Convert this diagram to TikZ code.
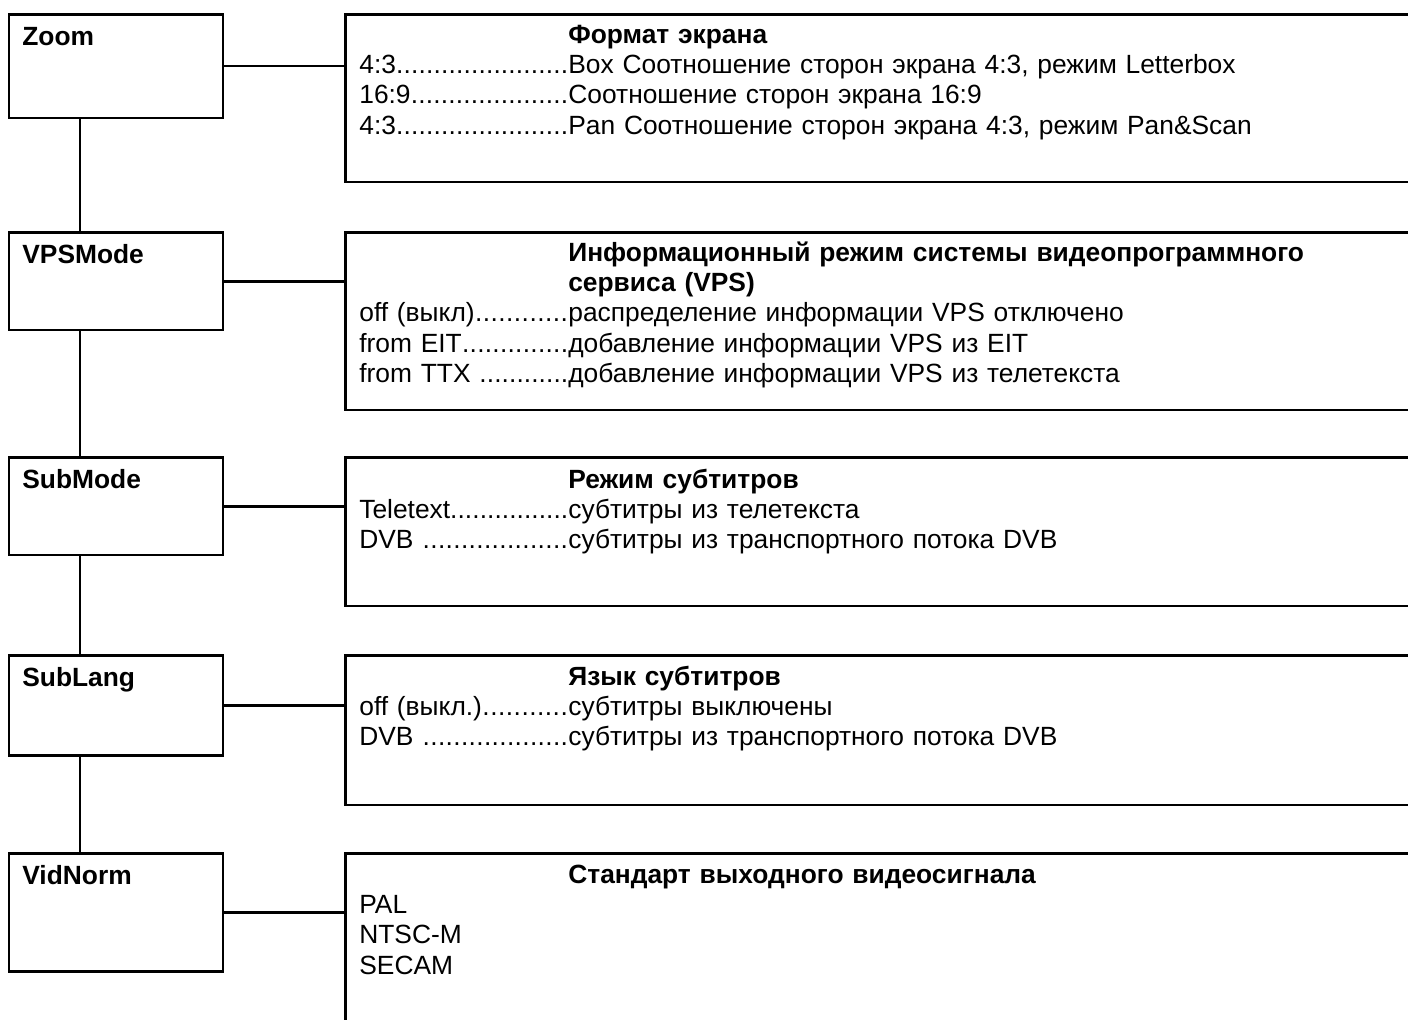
\documentclass[tikz,border=0pt]{standalone}
\usepackage{fontspec}
\setmainfont{Liberation Sans}
\usetikzlibrary{positioning,calc}

% dense dot leader, as in the manual
\newcommand{\lead}{\xleaders\hbox{.}\hfill}
\newcommand{\opt}[2]{\makebox[4.18cm][l]{#1\lead}#2}
\newcommand{\hd}[1]{\hspace*{4.18cm}\textbf{#1}}

\tikzset{
    every node/.style={font=\fontsize{15}{17.3}\selectfont},
    menubox/.style={draw, line width=0.05cm, anchor=north west, minimum width=4.28cm, inner sep=0},
    optbox/.style={draw, line width=0.05cm, anchor=north west, minimum width=22cm, inner sep=0},
    boxname/.style={anchor=base west, inner sep=0, font=\fontsize{15}{17.3}\selectfont\bfseries},
    opttext/.style={anchor=base west, inner sep=0, text width=21cm, align=left},
    link/.style={line width=0.05cm}
}

\begin{document}
\begin{tikzpicture}[x=0.02cm,y=-0.02cm]
            \useasboundingbox (0,0) rectangle (1408,1019);
            \clip (0,0) rectangle (1408,1019);
            \coordinate (spine) at (80,0);
            % menu items on the left
            \node[menubox, minimum height=2.08cm] (zoom) at (8,13) {};
            \node[menubox, minimum height=1.96cm] (vps) at (8,231) {};
            \node[menubox, minimum height=1.96cm] (submode) at (8,456) {};
            \node[menubox, minimum height=2.0cm] (sublang) at (8,654) {};
            \node[menubox, minimum height=2.36cm] (vidnorm) at (8,852) {};
            \node[boxname] (zoomN) at ($(zoom.north west)+(14,32)$) {Zoom};
            \node[boxname] (vpsN) at ($(vps.north west)+(14,32)$) {VPSMode};
            \node[boxname] (submodeN) at ($(submode.north west)+(14,32)$) {SubMode};
            \node[boxname] (sublangN) at ($(sublang.north west)+(14,32)$) {SubLang};
            \node[boxname] (vidnormN) at ($(vidnorm.north west)+(14,32)$) {VidNorm};
            % option boxes on the right
            \node[optbox, minimum height=3.36cm] (zoomR) at (344,13) {};
            \node[optbox, minimum height=3.56cm] (vpsR) at (344,231) {};
            \node[optbox, minimum height=2.98cm] (submodeR) at (344,456) {};
            \node[optbox, minimum height=3.0cm] (sublangR) at (344,654) {};
            \node[optbox, minimum height=4.0cm] (vidnormR) at (344,852) {};
            \node[opttext] (zoomT) at ($(zoomR.north west)+(15,30)$) {%
                \hd{Формат экрана}\\
                \opt{4:3}{Box Соотношение сторон экрана 4:3, режим Letterbox}\\
                \opt{16:9}{Соотношение сторон экрана 16:9}\\
                \opt{4:3}{Pan Соотношение сторон экрана 4:3, режим Pan\&Scan}};
            \node[opttext] (vpsT) at ($(vpsR.north west)+(15,30)$) {%
                \hd{Информационный режим системы видеопрограммного}\\
                \hd{сервиса (VPS)}\\
                \opt{off (выкл)}{распределение информации VPS отключено}\\
                \opt{from EIT}{добавление информации VPS из EIT}\\
                \opt{from TTX }{добавление информации VPS из телетекста}};
            \node[opttext] (submodeT) at ($(submodeR.north west)+(15,32)$) {%
                \hd{Режим субтитров}\\
                \opt{Teletext}{субтитры из телетекста}\\
                \opt{DVB }{субтитры из транспортного потока DVB}};
            \node[opttext] (sublangT) at ($(sublangR.north west)+(15,31)$) {%
                \hd{Язык субтитров}\\
                \opt{off (выкл.)}{субтитры выключены}\\
                \opt{DVB }{субтитры из транспортного потока DVB}};
            \node[opttext] (vidnormT) at ($(vidnormR.north west)+(15,31)$) {%
                \hd{Стандарт выходного видеосигнала}\\
                PAL\\
                NTSC-M\\
                SECAM};
            % horizontal links from item to its options
            \foreach \n in {zoom,vps,submode,sublang,vidnorm}
            {
                \draw[link] (\n.east) -- (\n.east -| \n R.west);
            }
            % vertical spine between the items
            \draw[link] (zoom.south -| spine) -- (vps.north -| spine);
            \draw[link] (vps.south -| spine) -- (submode.north -| spine);
            \draw[link] (submode.south -| spine) -- (sublang.north -| spine);
            \draw[link] (sublang.south -| spine) -- (vidnorm.north -| spine);
\end{tikzpicture}
\end{document}
